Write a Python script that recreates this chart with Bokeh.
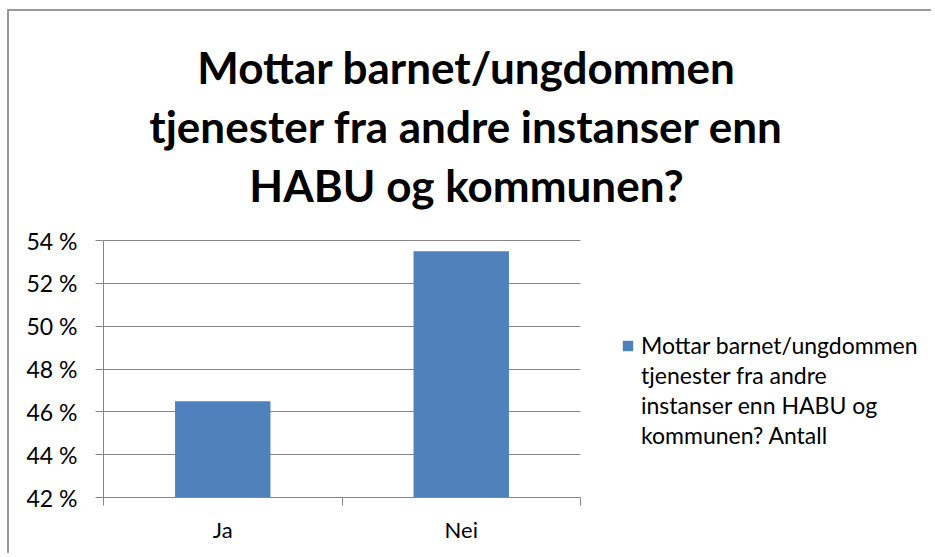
from bokeh.plotting import figure
from bokeh.models import Range1d, FixedTicker, PrintfTickFormatter, Legend, LegendItem, Label
from bokeh.embed import file_html
from bokeh.resources import INLINE

# ---- data ----
categories = ["Ja", "Nei"]
values = [46.5, 53.5]
y_ticks = [42, 44, 46, 48, 50, 52, 54]
series_name = "Mottar barnet/ungdommen\ntjenester fra andre\ninstanser enn HABU og\nkommunen? Antall"
title_lines = ["Mottar barnet/ungdommen",
               "tjenester fra andre instanser enn",
               "HABU og kommunen?"]

Y_MIN, Y_MAX = y_ticks[0], y_ticks[-1]
FONT = "Lato"
GRAY = "#868686"
BORDER = "2px solid #9a9a9a"
BAR = "#4F81BD"

# ---- layout (pixels) ----
W, H = 924, 544
LEFT, RIGHT, BOTTOM = 94, 5, 58
FRAME_W = W - LEFT - RIGHT
FRAME_H = H - BOTTOM
PLOT_W, PLOT_H = 477, 257          # pixel size of the bar-chart area inside the frame

n = len(categories)
x_end = n * FRAME_W / PLOT_W
y_end = Y_MIN + (Y_MAX - Y_MIN) * FRAME_H / PLOT_H

p = figure(width=W, height=H, output_backend="svg", toolbar_location=None,
           x_range=Range1d(0, x_end), y_range=Range1d(Y_MIN, y_end),
           min_border_left=LEFT, min_border_right=RIGHT, min_border_top=0,
           min_border_bottom=BOTTOM,
           styles={"border-left": BORDER, "border-top": BORDER,
                   "margin-left": "7px", "margin-top": "9px"})
p.outline_line_color = None

xs = [i + 0.5 for i in range(n)]
r = p.vbar(x=xs, top=values, bottom=Y_MIN, width=0.4, fill_color=BAR, line_color=None)
blank = p.vbar(x=[], top=[], width=0.4, fill_alpha=0, line_alpha=0)

# x axis: labels at category centres, ticks at category boundaries
p.xaxis.bounds = (0, n)
p.xaxis.ticker = FixedTicker(ticks=xs, minor_ticks=list(range(n + 1)))
p.xaxis.major_label_overrides = {x: c for x, c in zip(xs, categories)}
p.xaxis.major_tick_out = 0
p.xaxis.major_tick_in = 0
p.xaxis.minor_tick_out = 8
p.xaxis.minor_tick_in = 0
p.xaxis.minor_tick_line_color = GRAY
p.xaxis.axis_line_color = GRAY
p.xaxis.major_label_standoff = 10
p.xaxis.major_label_text_font = FONT
p.xaxis.major_label_text_font_size = "22px"
p.xaxis.major_label_text_color = "black"
p.xgrid.grid_line_color = None

# y axis
p.yaxis.bounds = (Y_MIN, Y_MAX)
p.yaxis.ticker = FixedTicker(ticks=y_ticks, minor_ticks=[])
p.yaxis.formatter = PrintfTickFormatter(format="%d %%")
p.yaxis.major_tick_out = 8
p.yaxis.major_tick_in = 0
p.yaxis.major_tick_line_color = GRAY
p.yaxis.axis_line_color = GRAY
p.yaxis.major_label_standoff = 18
p.yaxis.major_label_text_font = FONT
p.yaxis.major_label_text_font_size = "23px"
p.yaxis.major_label_text_color = "black"
p.ygrid.ticker = FixedTicker(ticks=y_ticks, minor_ticks=[])
p.ygrid.grid_line_color = GRAY
p.ygrid.cross_bounds = (0, n)

# title: three centred lines above the chart area
for i, line in enumerate(title_lines):
    p.add_layout(Label(x=363, y=431 - 59 * i, x_units="screen", y_units="screen",
                       text=line, text_align="center", text_baseline="middle",
                       text_font=FONT, text_font_size="44px", text_font_style="bold",
                       text_color="black"))

lines = series_name.split("\n")
items = [LegendItem(label=lines[0], renderers=[r])] + \
        [LegendItem(label=t, renderers=[blank]) for t in lines[1:]]
legend = Legend(items=items, location=(518, 47))
legend.padding = 0
legend.margin = 0
legend.spacing = 0
legend.border_line_color = None
legend.background_fill_alpha = 0
legend.glyph_width = 13
legend.glyph_height = 13
legend.label_height = 30
legend.label_standoff = 7
legend.label_text_font = FONT
legend.label_text_font_size = "23px"
legend.label_text_color = "black"
p.add_layout(legend)

open("out.html", "w").write(file_html(p, INLINE))
